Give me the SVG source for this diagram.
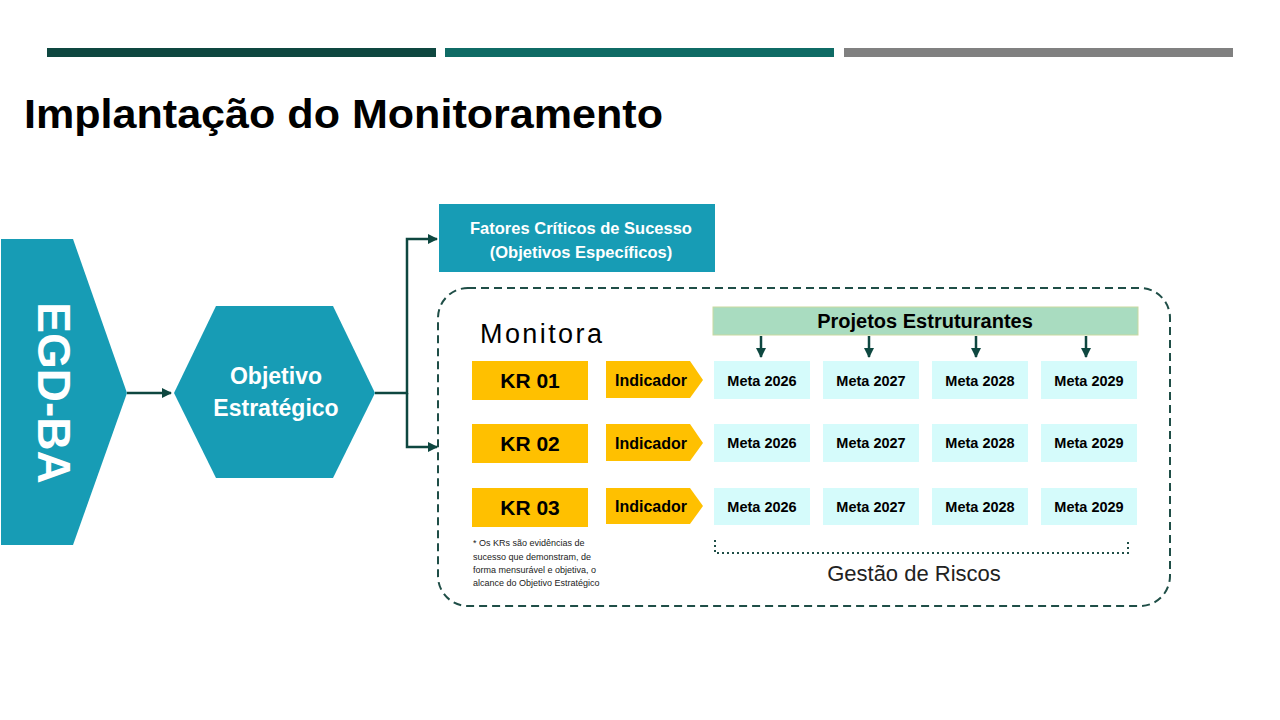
<svg xmlns="http://www.w3.org/2000/svg" width="1280" height="720" viewBox="0 0 1280 720">
<defs>
<marker id="ar" viewBox="0 0 10 10" refX="9" refY="5" markerWidth="4" markerHeight="4" orient="auto"><path d="M0,0 L10,5 L0,10 z" fill="#0e4740"/></marker>
<style>
.t{font-family:"Liberation Sans",Arial,sans-serif;}
.b{font-weight:bold;}
.kr{fill:#ffc000;}
.meta{fill:#d5fbfb;}
.c{stroke:#0e4740;stroke-width:2.5;fill:none;}
</style>
</defs>
<rect width="1280" height="720" fill="#fff"/>
<rect x="47" y="48" width="389" height="9" fill="#0e4740"/>
<rect x="445" y="48" width="389" height="9" fill="#0f6b65"/>
<rect x="844" y="48" width="389" height="9" fill="#808080"/>
<text class="t b" x="24" y="128" font-size="41" fill="#000" textLength="639" lengthAdjust="spacingAndGlyphs">Implantação do Monitoramento</text>

<g id="egd"><polygon points="1,239 73,239 127,393 73,545 1,545" fill="#179cb5"/>
<text class="t b" transform="translate(54,393) rotate(90)" text-anchor="middle" dominant-baseline="central" font-size="46" fill="#fff">EGD-BA</text></g>

<g id="objetivo"><polygon points="216,306 333,306 375,393 333,478 216,478 174,393" fill="#179cb5"/>
<text class="t b" x="276" y="384" text-anchor="middle" font-size="23" fill="#fff">Objetivo</text>
<text class="t b" x="276" y="416" text-anchor="middle" font-size="23" fill="#fff">Estratégico</text></g>

<g id="fatores"><rect x="439" y="204" width="276" height="68" fill="#179cb5"/>
<text class="t b" x="581" y="234" text-anchor="middle" font-size="16.5" fill="#fff">Fatores Críticos de Sucesso</text>
<text class="t b" x="581" y="258" text-anchor="middle" font-size="16.5" fill="#fff">(Objetivos Específicos)</text></g>

<g id="monitora">
<rect x="438" y="288" width="732" height="318" rx="30" fill="none" stroke="#1f4e47" stroke-width="2" stroke-dasharray="8,5"/>
<text class="t" x="480" y="343" font-size="27" fill="#000" textLength="122">Monitora</text>
</g>

<g id="projetos"><rect x="713" y="307" width="425" height="28" fill="#a9dcc0" stroke="#c9d9a0" stroke-width="1"/>
<text class="t b" x="925" y="328" text-anchor="middle" font-size="20" fill="#000">Projetos Estruturantes</text></g>

<g id="kr01"><rect class="kr" x="472" y="361" width="116" height="39"/><text class="t b" x="530" y="388" text-anchor="middle" font-size="21">KR 01</text></g>
<g id="kr02"><rect class="kr" x="472" y="424" width="116" height="39"/><text class="t b" x="530" y="451" text-anchor="middle" font-size="21">KR 02</text></g>
<g id="kr03"><rect class="kr" x="472" y="488" width="116" height="39"/><text class="t b" x="530" y="515" text-anchor="middle" font-size="21">KR 03</text></g>

<g id="ind1"><polygon class="kr" points="606,361 690,361 703,380 690,398 606,398"/><text class="t b" x="651" y="386" text-anchor="middle" font-size="16">Indicador</text></g>
<g id="ind2"><polygon class="kr" points="606,424 690,424 703,443 690,461 606,461"/><text class="t b" x="651" y="449" text-anchor="middle" font-size="16">Indicador</text></g>
<g id="ind3"><polygon class="kr" points="606,488 690,488 703,506 690,524 606,524"/><text class="t b" x="651" y="512" text-anchor="middle" font-size="16">Indicador</text></g>

<g id="metas" class="t b" font-size="14.5" text-anchor="middle">
<rect class="meta" x="714" y="361" width="96" height="38"/><text x="762" y="386">Meta 2026</text>
<rect class="meta" x="823" y="361" width="96" height="38"/><text x="871" y="386">Meta 2027</text>
<rect class="meta" x="932" y="361" width="96" height="38"/><text x="980" y="386">Meta 2028</text>
<rect class="meta" x="1041" y="361" width="96" height="38"/><text x="1089" y="386">Meta 2029</text>
<rect class="meta" x="714" y="424" width="96" height="38"/><text x="762" y="448">Meta 2026</text>
<rect class="meta" x="823" y="424" width="96" height="38"/><text x="871" y="448">Meta 2027</text>
<rect class="meta" x="932" y="424" width="96" height="38"/><text x="980" y="448">Meta 2028</text>
<rect class="meta" x="1041" y="424" width="96" height="38"/><text x="1089" y="448">Meta 2029</text>
<rect class="meta" x="714" y="488" width="96" height="37"/><text x="762" y="512">Meta 2026</text>
<rect class="meta" x="823" y="488" width="96" height="37"/><text x="871" y="512">Meta 2027</text>
<rect class="meta" x="932" y="488" width="96" height="37"/><text x="980" y="512">Meta 2028</text>
<rect class="meta" x="1041" y="488" width="96" height="37"/><text x="1089" y="512">Meta 2029</text>
</g>

<g id="nota" class="t" font-size="9" fill="#222">
<text x="473" y="546">* Os KRs são evidências de</text>
<text x="473" y="560">sucesso que demonstram, de</text>
<text x="473" y="573">forma mensurável e objetiva, o</text>
<text x="473" y="586">alcance do Objetivo Estratégico</text>
</g>

<g id="riscos">
<path d="M715,540 V553 H1128 V540" fill="none" stroke="#1f4e47" stroke-width="2" stroke-dasharray="2,3"/>
<text class="t" x="914" y="581" text-anchor="middle" font-size="22" fill="#222">Gestão de Riscos</text>
</g>

<g id="connectors">
<path class="c" d="M127,393 H171" marker-end="url(#ar)"/>
<path class="c" d="M375,393 H407 V239 H437" marker-end="url(#ar)"/>
<path class="c" d="M407,393 V447 H437" marker-end="url(#ar)"/>
<path class="c" d="M761,336 V357" marker-end="url(#ar)"/>
<path class="c" d="M869,336 V357" marker-end="url(#ar)"/>
<path class="c" d="M976,336 V357" marker-end="url(#ar)"/>
<path class="c" d="M1086,336 V357" marker-end="url(#ar)"/>
</g>
</svg>
